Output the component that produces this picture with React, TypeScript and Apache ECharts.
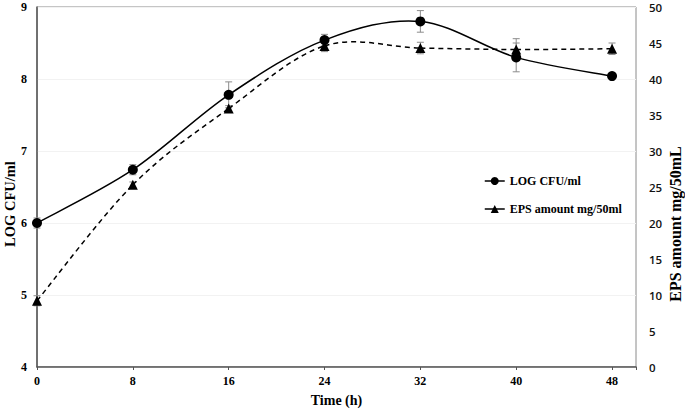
import React, { useEffect, useRef } from "react";
import * as echarts from "echarts";

const hours = [0, 8, 16, 24, 32, 40, 48];
const logCfu = [6.0, 6.74, 7.78, 8.54, 8.8, 8.3, 8.04];
const logCfuErr = [0.07, 0.07, 0.18, 0.08, 0.15, 0.2, 0.03];
const eps = [9.2, 25.3, 35.9, 44.6, 44.3, 44.1, 44.2];
const epsErr = [0.7, 0.4, 0.4, 0.8, 0.8, 1.5, 0.8];
const xTicks = [0, 8, 16, 24, 32, 40, 48];

const serif = "'Liberation Serif', 'Times New Roman', serif";
const sans = "'Open Sans', 'Noto Sans', sans-serif";

function errorSeries(values: number[], errs: number[], yAxisIndex: number) {
  return {
    type: "custom",
    yAxisIndex,
    silent: true,
    z: 1,
    data: hours.map((h, i) => [h, values[i] - errs[i], values[i] + errs[i]]),
    renderItem: (params: any, api: any) => {
      const x = api.value(0);
      const lo = api.coord([x, api.value(1)]);
      const hi = api.coord([x, api.value(2)]);
      const cap = 3.5;
      const style = { stroke: "#8c8c8c", lineWidth: 1 };
      return {
        type: "group",
        children: [
          { type: "line", shape: { x1: lo[0], y1: lo[1], x2: hi[0], y2: hi[1] }, style },
          { type: "line", shape: { x1: lo[0] - cap, y1: lo[1], x2: lo[0] + cap, y2: lo[1] }, style },
          { type: "line", shape: { x1: hi[0] - cap, y1: hi[1], x2: hi[0] + cap, y2: hi[1] }, style },
        ],
      };
    },
  };
}

// Excel-like smoothed curve (Catmull-Rom in pixel space), one segment per data item
function curveSeries(values: number[], yAxisIndex: number, dash: number[] | null) {
  return {
    type: "custom",
    yAxisIndex,
    silent: true,
    z: 2,
    data: hours.map((h, i) => [h, values[i]]),
    renderItem: (params: any, api: any) => {
      const i = params.dataIndex;
      const n = hours.length;
      if (i >= n - 1) return null;
      const P = (j: number) => {
        const k = Math.max(0, Math.min(n - 1, j));
        return api.coord([hours[k], values[k]]);
      };
      const p0 = P(i - 1), p1 = P(i), p2 = P(i + 1), p3 = P(i + 2);
      const t = 1 / 6;
      return {
        type: "bezierCurve",
        shape: {
          x1: p1[0],
          y1: p1[1],
          x2: p2[0],
          y2: p2[1],
          cpx1: p1[0] + (p2[0] - p0[0]) * t,
          cpy1: p1[1] + (p2[1] - p0[1]) * t,
          cpx2: p2[0] - (p3[0] - p1[0]) * t,
          cpy2: p2[1] - (p3[1] - p1[1]) * t,
        },
        style: {
          stroke: "#000",
          fill: null,
          lineWidth: 1.5,
          lineDash: dash,
        },
      };
    },
  };
}

export default function App() {
  const ref = useRef<HTMLDivElement>(null);
  useEffect(() => {
    const chart = echarts.init(ref.current!, null, { renderer: "svg" });
    chart.setOption({
      animation: false,
      grid: {
        left: 37,
        right: 49,
        top: 7,
        bottom: 42,
        outerBoundsMode: "none",
        containLabel: false,
        show: true,
        borderColor: "#8a8a8a",
        borderWidth: 1,
      },
      legend: {
        orient: "vertical",
        left: 479,
        top: 170,
        itemGap: 16,
        itemWidth: 20,
        itemHeight: 10,
        textStyle: { fontFamily: serif, fontWeight: "bold", fontSize: 12, color: "#000" },
        data: [
          { name: "LOG CFU/ml", lineStyle: { opacity: 1, color: "#000", width: 1.5, type: "solid" } },
          { name: "EPS amount mg/50ml", lineStyle: { opacity: 1, color: "#000", width: 1.5, type: "solid" } },
        ],
      },
      xAxis: {
        type: "value",
        min: 0,
        max: 50,
        interval: 8,
        name: "Time (h)",
        nameLocation: "middle",
        nameGap: 26,
        nameTextStyle: { fontFamily: serif, fontWeight: "bold", fontSize: 14, color: "#000" },
        axisLine: { lineStyle: { color: "#555", width: 1.5 } },
        axisTick: { show: true, inside: false, length: 3, lineStyle: { color: "#555" } },
        axisLabel: {
          fontFamily: serif,
          fontWeight: "bold",
          fontSize: 12,
          color: "#000",
          margin: 8,
          formatter: (v: number) => (xTicks.indexOf(v) >= 0 ? String(v) : ""),
        },
        splitLine: { show: false },
      },
      yAxis: [
        {
          type: "value",
          min: 4,
          max: 9,
          interval: 1,
          axisLine: { show: true, lineStyle: { color: "#555", width: 1.5 } },
          axisTick: { show: false },
          axisLabel: { fontFamily: serif, fontWeight: "bold", fontSize: 12, color: "#000", margin: 10 },
          splitLine: { show: true, lineStyle: { color: "#f2f2f2", width: 1 } },
        },
        {
          type: "value",
          min: 0,
          max: 50,
          interval: 5,
          position: "right",
          axisLine: { show: false },
          axisTick: { show: false },
          axisLabel: { fontFamily: sans, fontWeight: 600, fontSize: 11.5, color: "#111", margin: 13 },
          splitLine: { show: false },
        },
      ],
      graphic: [
        {
          type: "text",
          x: 10,
          y: 204,
          rotation: Math.PI / 2,
          style: {
            text: "LOG CFU/ml",
            fontFamily: serif,
            fontWeight: "bold",
            fontSize: 14.5,
            fill: "#000",
            align: "center",
            verticalAlign: "middle",
          },
        },
        {
          type: "text",
          x: 675,
          y: 224,
          rotation: Math.PI / 2,
          style: {
            text: "EPS amount mg/50mL",
            fontFamily: serif,
            fontWeight: "bold",
            fontSize: 16,
            fill: "#000",
            align: "center",
            verticalAlign: "middle",
          },
        },
      ],
      series: [
        errorSeries(logCfu, logCfuErr, 0),
        errorSeries(eps, epsErr, 1),
        curveSeries(logCfu, 0, null),
        curveSeries(eps, 1, [5, 4]),
        {
          name: "LOG CFU/ml",
          type: "line",
          yAxisIndex: 0,
          symbol: "circle",
          symbolSize: 10,
          z: 3,
          data: hours.map((h, i) => [h, logCfu[i]]),
          lineStyle: { color: "#000", width: 1.5, opacity: 0 },
          itemStyle: { color: "#000" },
        },
        {
          name: "EPS amount mg/50ml",
          type: "line",
          yAxisIndex: 1,
          symbol: "triangle",
          symbolSize: 10,
          z: 3,
          data: hours.map((h, i) => [h, eps[i]]),
          lineStyle: { color: "#000", width: 1.5, opacity: 0 },
          itemStyle: { color: "#000" },
        },
      ],
    });
    return () => chart.dispose();
  }, []);
  return (
    <div
      ref={ref}
      style={{ position: "absolute", left: 0, top: 0, width: 685, height: 409, background: "#fff" }}
    />
  );
}
